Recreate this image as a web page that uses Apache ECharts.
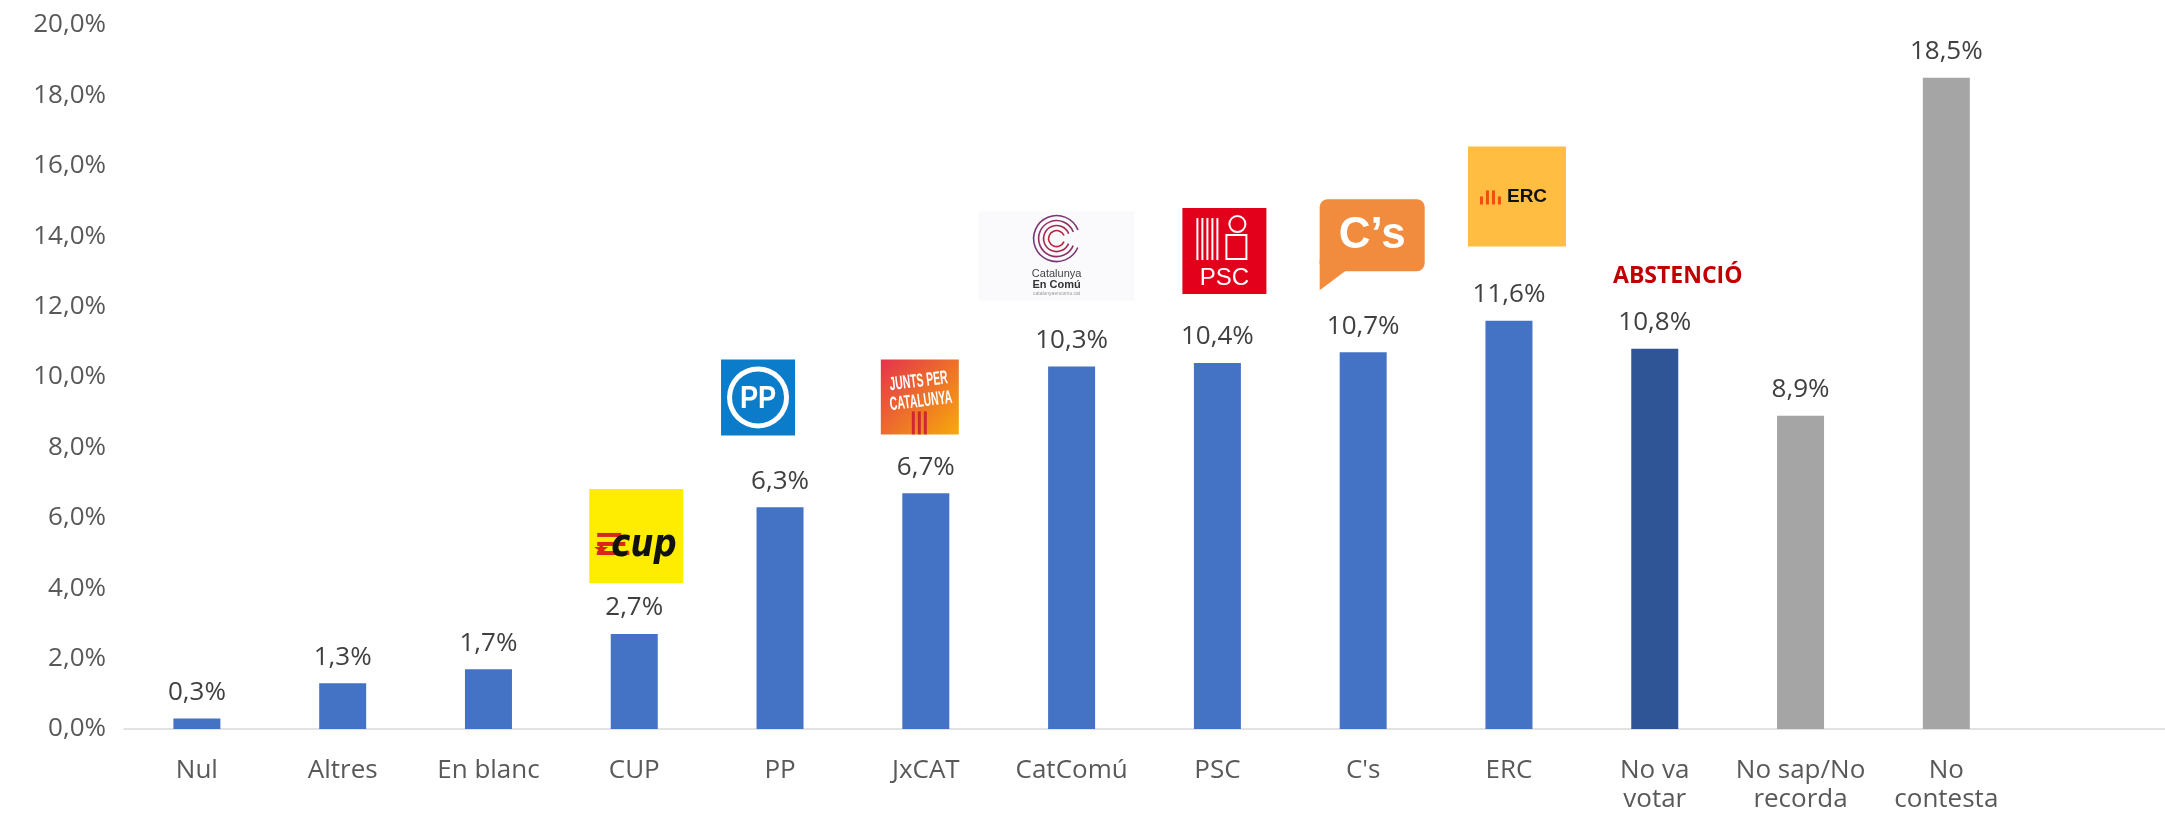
<!DOCTYPE html>
<html>
<head>
<meta charset="utf-8">
<script src="https://cdn.jsdelivr.net/npm/echarts@6/dist/echarts.min.js"></script>
<style>
  html, body { margin: 0; padding: 0; background: #fff; }
  #main { width: 2165px; height: 823px; }
</style>
</head>
<body>
<div id="main"></div>
<script>
// dades
var categories = ['Nul', 'Altres', 'En blanc', 'CUP', 'PP', 'JxCAT', 'CatComú', 'PSC', "C's", 'ERC', 'No va\nvotar', 'No sap/No\nrecorda', 'No\ncontesta', ''];
var values = [0.3, 1.3, 1.7, 2.7, 6.3, 6.7, 10.3, 10.4, 10.7, 11.6, 10.8, 8.9, 18.5, null];
var groups = ['vot', 'vot', 'vot', 'vot', 'vot', 'vot', 'vot', 'vot', 'vot', 'vot', 'abst', 'ns', 'ns', 'ns'];
var yTicks = [0, 2, 4, 6, 8, 10, 12, 14, 16, 18, 20];

var colors = { vot: '#4472C4', abst: '#2F5597', ns: '#A5A5A5' };
var font = '"Open Sans", "Noto Sans", sans-serif';

function pct(v) {
    return v.toFixed(1).replace('.', ',') + '%';
}

var chart = echarts.init(document.getElementById('main'));

var option = {
    animation: false,
    grid: { left: 124, top: 25, width: 2051, height: 704 },
    xAxis: {
        type: 'category',
        data: categories,
        axisLine: { lineStyle: { color: '#D9D9D9', width: 1.5 } },
        axisTick: { show: false },
        axisLabel: {
            color: '#595959', fontFamily: font, fontSize: 26,
            lineHeight: 29, margin: 27, interval: 0
        }
    },
    yAxis: {
        type: 'value',
        min: yTicks[0],
        max: yTicks[yTicks.length - 1],
        interval: 2,
        axisLine: { show: false },
        axisTick: { show: false },
        splitLine: { show: false },
        axisLabel: {
            color: '#595959', fontFamily: font, fontSize: 26, margin: 18,
            formatter: function (v) { return pct(v); }
        }
    },
    series: [{
        type: 'bar',
        barWidth: 47,
        data: values.map(function (v, i) {
            return { value: v, itemStyle: { color: colors[groups[i]] } };
        }),
        label: {
            show: true,
            position: 'top',
            distance: 13,
            color: '#404040',
            fontFamily: font,
            fontSize: 26,
            formatter: function (p) { return p.value == null ? '' : pct(p.value); }
        }
    }]
};
chart.setOption(option);

// logos dels partits, situats sobre la barra corresponent
var logoCat = ['CUP', 'PP', 'JxCAT', 'CatComú', 'PSC', "C's", 'ERC'];
var logoTop = [6.82, 10.5, 10.5, 14.7, 14.8, 15.05, 16.55];
var logoDx = [2, -22, -6, -15, 7, 9, 8];
var logoW = [94, 74, 78, 156, 84, 105, 98];
var logoH = [94, 76, 75, 89, 86, 91, 100];

function pos(i) {
    var p = chart.convertToPixel({ xAxisIndex: 0, yAxisIndex: 0 }, [logoCat[i], logoTop[i]]);
    return [p[0] + logoDx[i] - logoW[i] / 2, p[1]];
}

function cupLogo(i) {
    var w = logoW[i], h = logoH[i];
    var kids = [{ type: 'rect', shape: { x: 0, y: 0, width: w, height: h }, style: { fill: '#FFED00' } }];
    for (var k = 0; k < 3; k++) {
        kids.push({ type: 'rect', shape: { x: 8, y: 44 + k * 9, width: 24 + k * 4, height: 4 }, style: { fill: '#D7261E' } });
    }
    kids.push({ type: 'polygon', shape: { points: [[12, 53], [14, 58], [19, 58], [15, 61], [17, 66], [12, 63], [7, 66], [9, 61], [5, 58], [10, 58]] }, style: { fill: '#D7261E' } });
    kids.push({ type: 'text', x: 22, y: 38, scaleX: 0.85, style: { text: 'cup', fill: '#111', font: 'italic bold 38px "DejaVu Sans", sans-serif' } });
    return kids;
}

function ppLogo(i) {
    var w = logoW[i], h = logoH[i];
    return [
        { type: 'rect', shape: { x: 0, y: 0, width: w, height: h }, style: { fill: '#0A7CC9' } },
        { type: 'ring', shape: { cx: w / 2, cy: h / 2, r: 31, r0: 26 }, style: { fill: '#fff' } },
        { type: 'text', x: w / 2, y: h / 2 + 2, scaleX: 0.85, style: { text: 'PP', fill: '#fff', font: 'bold 32px "Liberation Sans", sans-serif', align: 'center', verticalAlign: 'middle' } }
    ];
}

function juntsLogo(i) {
    var w = logoW[i], h = logoH[i];
    return [
        { type: 'rect', shape: { x: 0, y: 0, width: w, height: h }, style: {
            fill: new echarts.graphic.LinearGradient(0, 0, 1, 1, [{ offset: 0, color: '#E4334C' }, { offset: 1, color: '#F6AA0A' }]) } },
        { type: 'rect', shape: { x: 31, y: 52, width: 3, height: 23 }, style: { fill: '#D22630' } },
        { type: 'rect', shape: { x: 37, y: 52, width: 3, height: 23 }, style: { fill: '#D22630' } },
        { type: 'rect', shape: { x: 43, y: 52, width: 3, height: 23 }, style: { fill: '#D22630' } },
        { type: 'text', x: w / 2, y: 32, rotation: 0.12, scaleX: 0.55, style: { text: 'JUNTS PER\nCATALUNYA', fill: '#fff', font: 'bold 19px "Liberation Sans", sans-serif', align: 'center', verticalAlign: 'middle', lineHeight: 20 } }
    ];
}

function comuLogo(i) {
    var w = logoW[i], h = logoH[i];
    var kids = [{ type: 'rect', shape: { x: 0, y: 0, width: w, height: h }, style: { fill: '#FAFAFC' } }];
    var cols = ['#B8233A', '#A52A4F', '#8E3063', '#7A3675'];
    for (var k = 0; k < 4; k++) {
        kids.push({ type: 'arc', shape: { cx: w / 2, cy: 27, r: 8 + k * 5, startAngle: 0.4, endAngle: 5.9 }, style: { stroke: cols[k], lineWidth: 1.6, fill: null } });
    }
    kids.push({ type: 'text', x: w / 2, y: 62, style: { text: 'Catalunya', fill: '#444', font: '11px "Liberation Sans", sans-serif', align: 'center', verticalAlign: 'middle' } });
    kids.push({ type: 'text', x: w / 2, y: 73, style: { text: 'En Comú', fill: '#333', font: 'bold 11px "Liberation Sans", sans-serif', align: 'center', verticalAlign: 'middle' } });
    kids.push({ type: 'text', x: w / 2, y: 82, style: { text: 'catalunyaencomu.cat', fill: '#999', font: '5px sans-serif', align: 'center', verticalAlign: 'middle' } });
    return kids;
}

function pscLogo(i) {
    var w = logoW[i], h = logoH[i];
    var kids = [{ type: 'rect', shape: { x: 0, y: 0, width: w, height: h }, style: { fill: '#E2001A' } }];
    for (var k = 0; k < 5; k++) {
        kids.push({ type: 'rect', shape: { x: 14 + k * 5, y: 10, width: 2, height: 42 }, style: { fill: '#fff' } });
    }
    kids.push({ type: 'circle', shape: { cx: 55, cy: 16, r: 8 }, style: { fill: null, stroke: '#fff', lineWidth: 2 } });
    kids.push({ type: 'rect', shape: { x: 44, y: 27, width: 20, height: 24 }, style: { fill: null, stroke: '#fff', lineWidth: 2 } });
    kids.push({ type: 'text', x: w / 2, y: 70, style: { text: 'PSC', fill: '#fff', font: '24px "Liberation Sans", sans-serif', align: 'center', verticalAlign: 'middle' } });
    return kids;
}

function csLogo(i) {
    var w = logoW[i], h = logoH[i];
    return [
        { type: 'rect', shape: { x: 0, y: 0, width: w, height: 72, r: 8 }, style: { fill: '#F18B3E' } },
        { type: 'polygon', shape: { points: [[0, 60], [28, 70], [0, h]] }, style: { fill: '#F18B3E' } },
        { type: 'text', x: w / 2, y: 37, style: { text: 'C’s', fill: '#fff', font: 'bold 44px "Liberation Sans", sans-serif', align: 'center', verticalAlign: 'middle' } }
    ];
}

function ercLogo(i) {
    var w = logoW[i], h = logoH[i];
    var kids = [{ type: 'rect', shape: { x: 0, y: 0, width: w, height: h }, style: { fill: '#FFBE41' } }];
    var hs = [8, 14, 14, 8];
    for (var k = 0; k < 4; k++) {
        kids.push({ type: 'rect', shape: { x: 12 + k * 6, y: 58 - hs[k], width: 3, height: hs[k] }, style: { fill: '#F04E0F' } });
    }
    kids.push({ type: 'text', x: 39, y: 50, style: { text: 'ERC', fill: '#111', font: 'bold 19px "Liberation Sans", sans-serif', verticalAlign: 'middle' } });
    return kids;
}

var builders = [cupLogo, ppLogo, juntsLogo, comuLogo, pscLogo, csLogo, ercLogo];
var graphics = builders.map(function (fn, i) {
    var p = pos(i);
    return { type: 'group', x: p[0], y: p[1], children: fn(i) };
});

// etiqueta d'abstenció
var ab = chart.convertToPixel({ xAxisIndex: 0, yAxisIndex: 0 }, [categories[10], 12.85]);
graphics.push({
    type: 'text', x: ab[0] + 23, y: ab[1],
    style: { text: 'ABSTENCIÓ', fill: '#C00000', font: 'bold 23px "Open Sans", sans-serif', align: 'center', verticalAlign: 'middle' }
});

chart.setOption({ graphic: graphics });
</script>
</body>
</html>
